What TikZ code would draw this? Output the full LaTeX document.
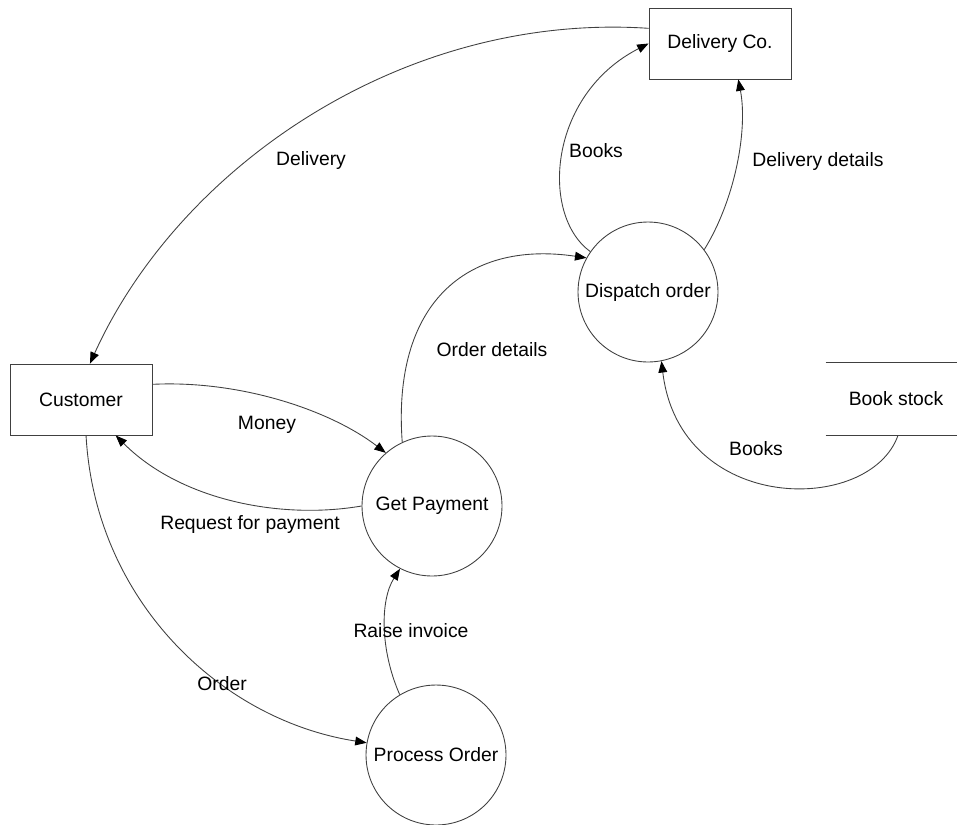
\documentclass[tikz,border=0pt]{standalone}
\usepackage{fontspec}
\setmainfont{Liberation Sans}
\usetikzlibrary{arrows.meta,calc}
\tikzset{%
  entity/.style  = {shape=rectangle, draw=black!75, line width=0.5pt,%
                    minimum width=2.84cm, minimum height=1.42cm, inner sep=0pt},%
  process/.style = {shape=circle, draw=black!75, line width=0.5pt,%
                    minimum size=2.8cm, inner sep=0pt},%
  store/.style   = {shape=rectangle, minimum width=2.62cm,%
                    minimum height=1.44cm, inner sep=0pt},%
  flow/.style    = {draw=black!75, line width=0.5pt,%
                    -{Triangle[length=6.5pt,width=5pt,color=black]}},%
  lbl/.style     = {inner sep=0pt}%
}

\begin{document}
\begin{tikzpicture}[x=0.02cm,y=-0.02cm, every node/.style = {font=\fontsize{11}{13}\selectfont}]%
	\useasboundingbox (0,0) rectangle (957,825);
	% entities and store
	\node[entity] (customer) at (81,399.5) {Customer};%
	\node[entity] (delco) at (720,43.5) {Delivery Co.};%
	\node[store] (bookstock) at (891.5,399) {\hspace*{13\pgflinewidth}Book stock};%
	\draw[black!75, line width=0.5pt] (bookstock.north west) -- (bookstock.north east)
		(bookstock.south west) -- (bookstock.south east);
	% processes
	\node[process] (getpay) at (432,506) {Get Payment};%
	\node[process] (procord) at (436,755) {Process Order};%
	\node[process] (dispatch) at (648,292) {Dispatch order};%
	% flows
	\draw[flow] (delco.168) .. controls (405,12) and (180,165) .. (customer.76);
	\draw[flow] (dispatch.145) .. controls (540,215) and (548,95) .. (delco.west);
	\draw[flow] (dispatch.37) .. controls (735,200) and (748,130) .. (delco.-63);
	\draw[flow] (getpay.115) .. controls (392,305) and (465,240) .. (dispatch.151);
	\draw[flow] (customer.12) .. controls (240,380) and (330,410) .. (getpay.131);
	\draw[flow] (getpay.180) .. controls (280,520) and (180,500) .. (customer.-46);
	\draw[flow] (customer.-82) .. controls (95,600) and (220,720) .. (procord.170);
	\draw[flow] (procord.121) .. controls (380,650) and (380,600) .. (getpay.243);
	\draw[flow] ($(bookstock.south)+(6.5,0)$) .. controls (870,515) and (680,515) .. (dispatch.-79);
	% flow labels
	\node[lbl] (ldelivery) at (311,161) {Delivery};%
	\node[lbl] (lbooksa) at (596,151) {Books};%
	\node[lbl] (ldetails) at (818,162) {Delivery details};%
	\node[lbl] (lorder) at (492,350) {Order details};%
	\node[lbl] (lmoney) at (267,425) {Money};%
	\node[lbl] (lrequest) at (250,525) {Request for payment};%
	\node[lbl] (lord) at (222,684) {Order};%
	\node[lbl] (linvoice) at (411,631) {Raise invoice};%
	\node[lbl] (lbooksb) at (756,449) {Books};%
\end{tikzpicture}
\end{document}
